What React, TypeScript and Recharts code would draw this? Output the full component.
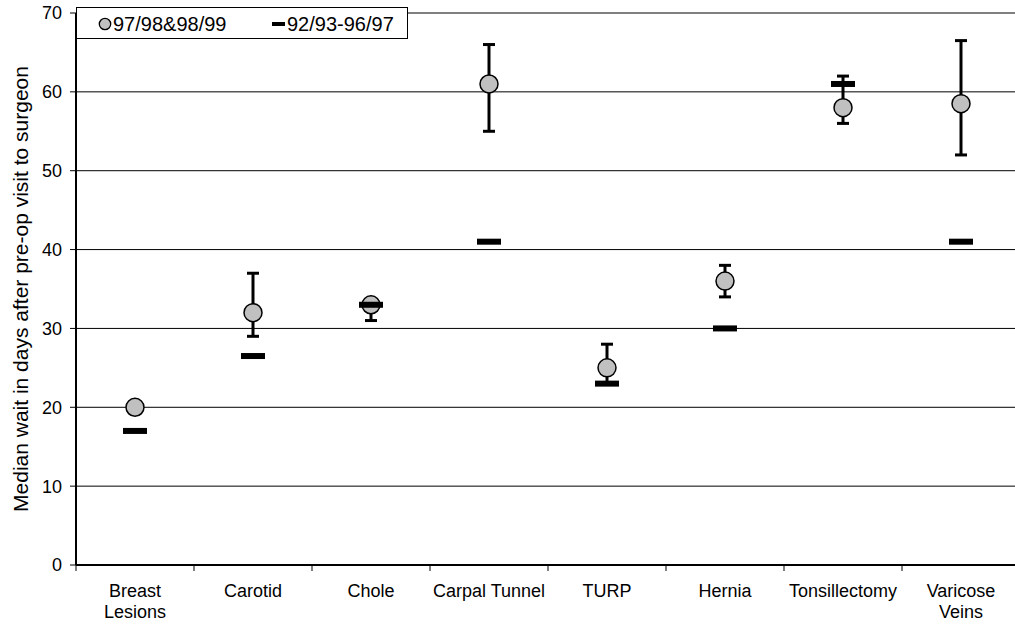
import React from "react";
import {
  ComposedChart,
  Scatter,
  XAxis,
  YAxis,
  CartesianGrid,
  ErrorBar,
  Label,
} from "recharts";

// procedures along the x axis ("\n" marks a line break in the tick label)
const categories = [
  "Breast\nLesions",
  "Carotid",
  "Chole",
  "Carpal Tunnel",
  "TURP",
  "Hernia",
  "Tonsillectomy",
  "Varicose\nVeins",
];

// 97/98 & 98/99 medians with their low / high range
const recentMedian = [20, 32, 33, 61, 25, 36, 58, 58.5];
const recentLow = [19.5, 29, 31, 55, 23, 34, 56, 52];
const recentHigh = [20.5, 37, 33.5, 66, 28, 38, 62, 66.5];

// 92/93 - 96/97 medians
const earlierMedian = [17, 26.5, 33, 41, 23, 30, 61, 41];

const seriesNames = ["97/98&98/99", "92/93-96/97"];
const yTicks = [0, 10, 20, 30, 40, 50, 60, 70];
const boundaryTicks = categories.map((_, i) => i).concat(categories.length);

const recentPoints = categories.map((_, i) => ({
  x: i + 0.5,
  y: recentMedian[i],
  err: [recentMedian[i] - recentLow[i], recentHigh[i] - recentMedian[i]],
}));

const earlierPoints = categories.map((_, i) => ({
  x: i + 0.5,
  y: earlierMedian[i],
}));

const FONT = "'Liberation Sans', Arial, sans-serif";

// the plot runs a little past the right edge of the 1015px frame
const FRAME_W = 1015;
const CHART_W = 1020;
const CHART_H = 627;
const AXIS_W = 76;
const HALF_BAND = (CHART_W - AXIS_W) / categories.length / 2;

const CircleDot = (p: any) => (
  <circle cx={p.cx} cy={p.cy} r={9} fill="#c0c0c0" stroke="#000" strokeWidth={1.5} />
);

const DashDot = (p: any) => (
  <rect x={p.cx - 12} y={p.cy - 3} width={24} height={6} fill="#000" />
);

// ticks sit on the category boundaries; the name goes in the middle of the band to the right
const NameTick = (p: any) => {
  const name = categories[p.payload.value];
  if (!name) return <g />;
  const cx = p.x + HALF_BAND;
  return (
    <text x={cx} y={p.y} textAnchor="middle" fontSize={18} fontFamily={FONT} fill="#000">
      {name.split("\n").map((line, i) => (
        <tspan key={i} x={cx} dy={i === 0 ? 24 : 21}>
          {line}
        </tspan>
      ))}
    </text>
  );
};

const LegendBox = () => (
  <div
    style={{
      position: "absolute",
      left: 76,
      top: 7,
      width: 332,
      height: 32,
      boxSizing: "border-box",
      border: "1px solid #000",
      background: "#fff",
      fontFamily: FONT,
      fontSize: 20,
      lineHeight: "20px",
      color: "#000",
    }}
  >
    <svg width={14} height={14} style={{ position: "absolute", left: 21, top: 9 }}>
      <circle cx={7} cy={7} r={5.7} fill="#c0c0c0" stroke="#000" strokeWidth={1.3} />
    </svg>
    <span style={{ position: "absolute", left: 36, top: 6 }}>{seriesNames[0]}</span>
    <svg width={14} height={14} style={{ position: "absolute", left: 195, top: 9 }}>
      <rect x={0} y={5} width={13} height={4} fill="#000" />
    </svg>
    <span style={{ position: "absolute", left: 210, top: 6 }}>{seriesNames[1]}</span>
  </div>
);

export default function App() {
  return (
    <div
      style={{
        position: "fixed",
        left: 0,
        top: 0,
        width: FRAME_W,
        height: CHART_H,
        overflow: "hidden",
        background: "#fff",
      }}
    >
      <ComposedChart
        width={CHART_W}
        height={CHART_H}
        margin={{ top: 13, right: 0, bottom: 0, left: 0 }}
        style={{ fontFamily: FONT }}
      >
        <CartesianGrid vertical={false} stroke="#000" strokeWidth={1} />
        <XAxis
          dataKey="x"
          type="number"
          domain={[0, categories.length]}
          ticks={boundaryTicks}
          interval={0}
          tick={<NameTick />}
          tickSize={6}
          height={62}
          axisLine={{ stroke: "#000", strokeWidth: 2 }}
          tickLine={{ stroke: "#000" }}
        />
        <YAxis
          dataKey="y"
          type="number"
          domain={[0, 70]}
          ticks={yTicks}
          interval={0}
          width={AXIS_W}
          tickSize={6}
          tickMargin={8}
          axisLine={{ stroke: "#000", strokeWidth: 2 }}
          tickLine={{ stroke: "#000" }}
          tick={{ fill: "#000", fontSize: 18, fontFamily: FONT }}
        >
          <Label
            content={(props: any) => {
              const vb = props.viewBox || {};
              const cx = 20.5;
              const cy = (vb.y || 0) + (vb.height || 0) / 2;
              return (
                <text
                  x={cx}
                  y={cy}
                  transform={`rotate(-90, ${cx}, ${cy})`}
                  textAnchor="middle"
                  dominantBaseline="central"
                  fontSize={21}
                  fontFamily={FONT}
                  fill="#000"
                >
                  Median wait in days after pre-op visit to surgeon
                </text>
              );
            }}
          />
        </YAxis>
        <Scatter
          name={seriesNames[0]}
          data={recentPoints}
          shape={CircleDot}
          isAnimationActive={false}
        >
          <ErrorBar dataKey="err" direction="y" width={6} strokeWidth={3} stroke="#000" />
        </Scatter>
        <Scatter
          name={seriesNames[1]}
          data={earlierPoints}
          shape={DashDot}
          isAnimationActive={false}
        />
      </ComposedChart>
      <LegendBox />
    </div>
  );
}
